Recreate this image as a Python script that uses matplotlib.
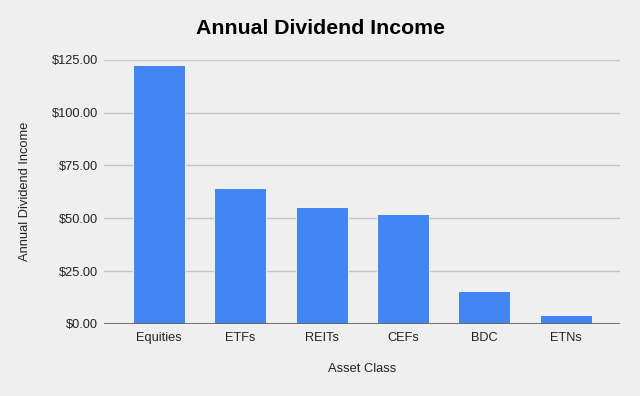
import matplotlib.pyplot as plt
from matplotlib.ticker import FuncFormatter

categories = ["Equities", "ETFs", "REITs", "CEFs", "BDC", "ETNs"]
income = [122.6, 64.5, 55.5, 52.0, 15.4, 4.4]
yticks = [0, 25, 50, 75, 100, 125]

plt.rcParams['font.family'] = ['Liberation Sans', 'DejaVu Sans']
bg = "#efefef"

fig = plt.figure(figsize=(6.4, 3.96), dpi=100, facecolor=bg)
ax = fig.add_axes([0.1625, 0.182, 0.806, 0.667], facecolor=bg)

x = range(len(categories))
ax.bar(x, income, width=0.64, color="#4285f4", edgecolor="white", linewidth=0.6, zorder=3)

ax.set_xlim(-0.675, 5.665)
ax.set_ylim(0, 125)
ax.set_yticks(yticks)
ax.yaxis.set_major_formatter(FuncFormatter(lambda v, p: f"${v:,.2f}"))
ax.set_xticks(list(x))
ax.set_xticklabels(categories)
ax.grid(axis="y", color="#c4c4c4", linewidth=1, zorder=0)
ax.axhline(0, color="#666666", linewidth=1.3, zorder=4)

for s in ax.spines.values():
    s.set_visible(False)
ax.tick_params(length=0, labelsize=9.2, colors="#222222")
ax.tick_params(axis="y", pad=4.5)
ax.tick_params(axis="x", pad=6)

ax.set_xlabel("Asset Class", fontsize=9.3, color="#222222", va="center")
ax.xaxis.set_label_coords(0.5, -0.170)
ax.set_ylabel("Annual Dividend Income", fontsize=9.3, color="#222222", va="center")
ax.yaxis.set_label_coords(-0.153, 0.5)
fig.text(0.5, 1 - 29 / 396, "Annual Dividend Income", ha="center", va="center",
         fontsize=15.3, fontweight="bold", color="#000000")

fig.savefig("out.png", dpi=100, facecolor=bg)
